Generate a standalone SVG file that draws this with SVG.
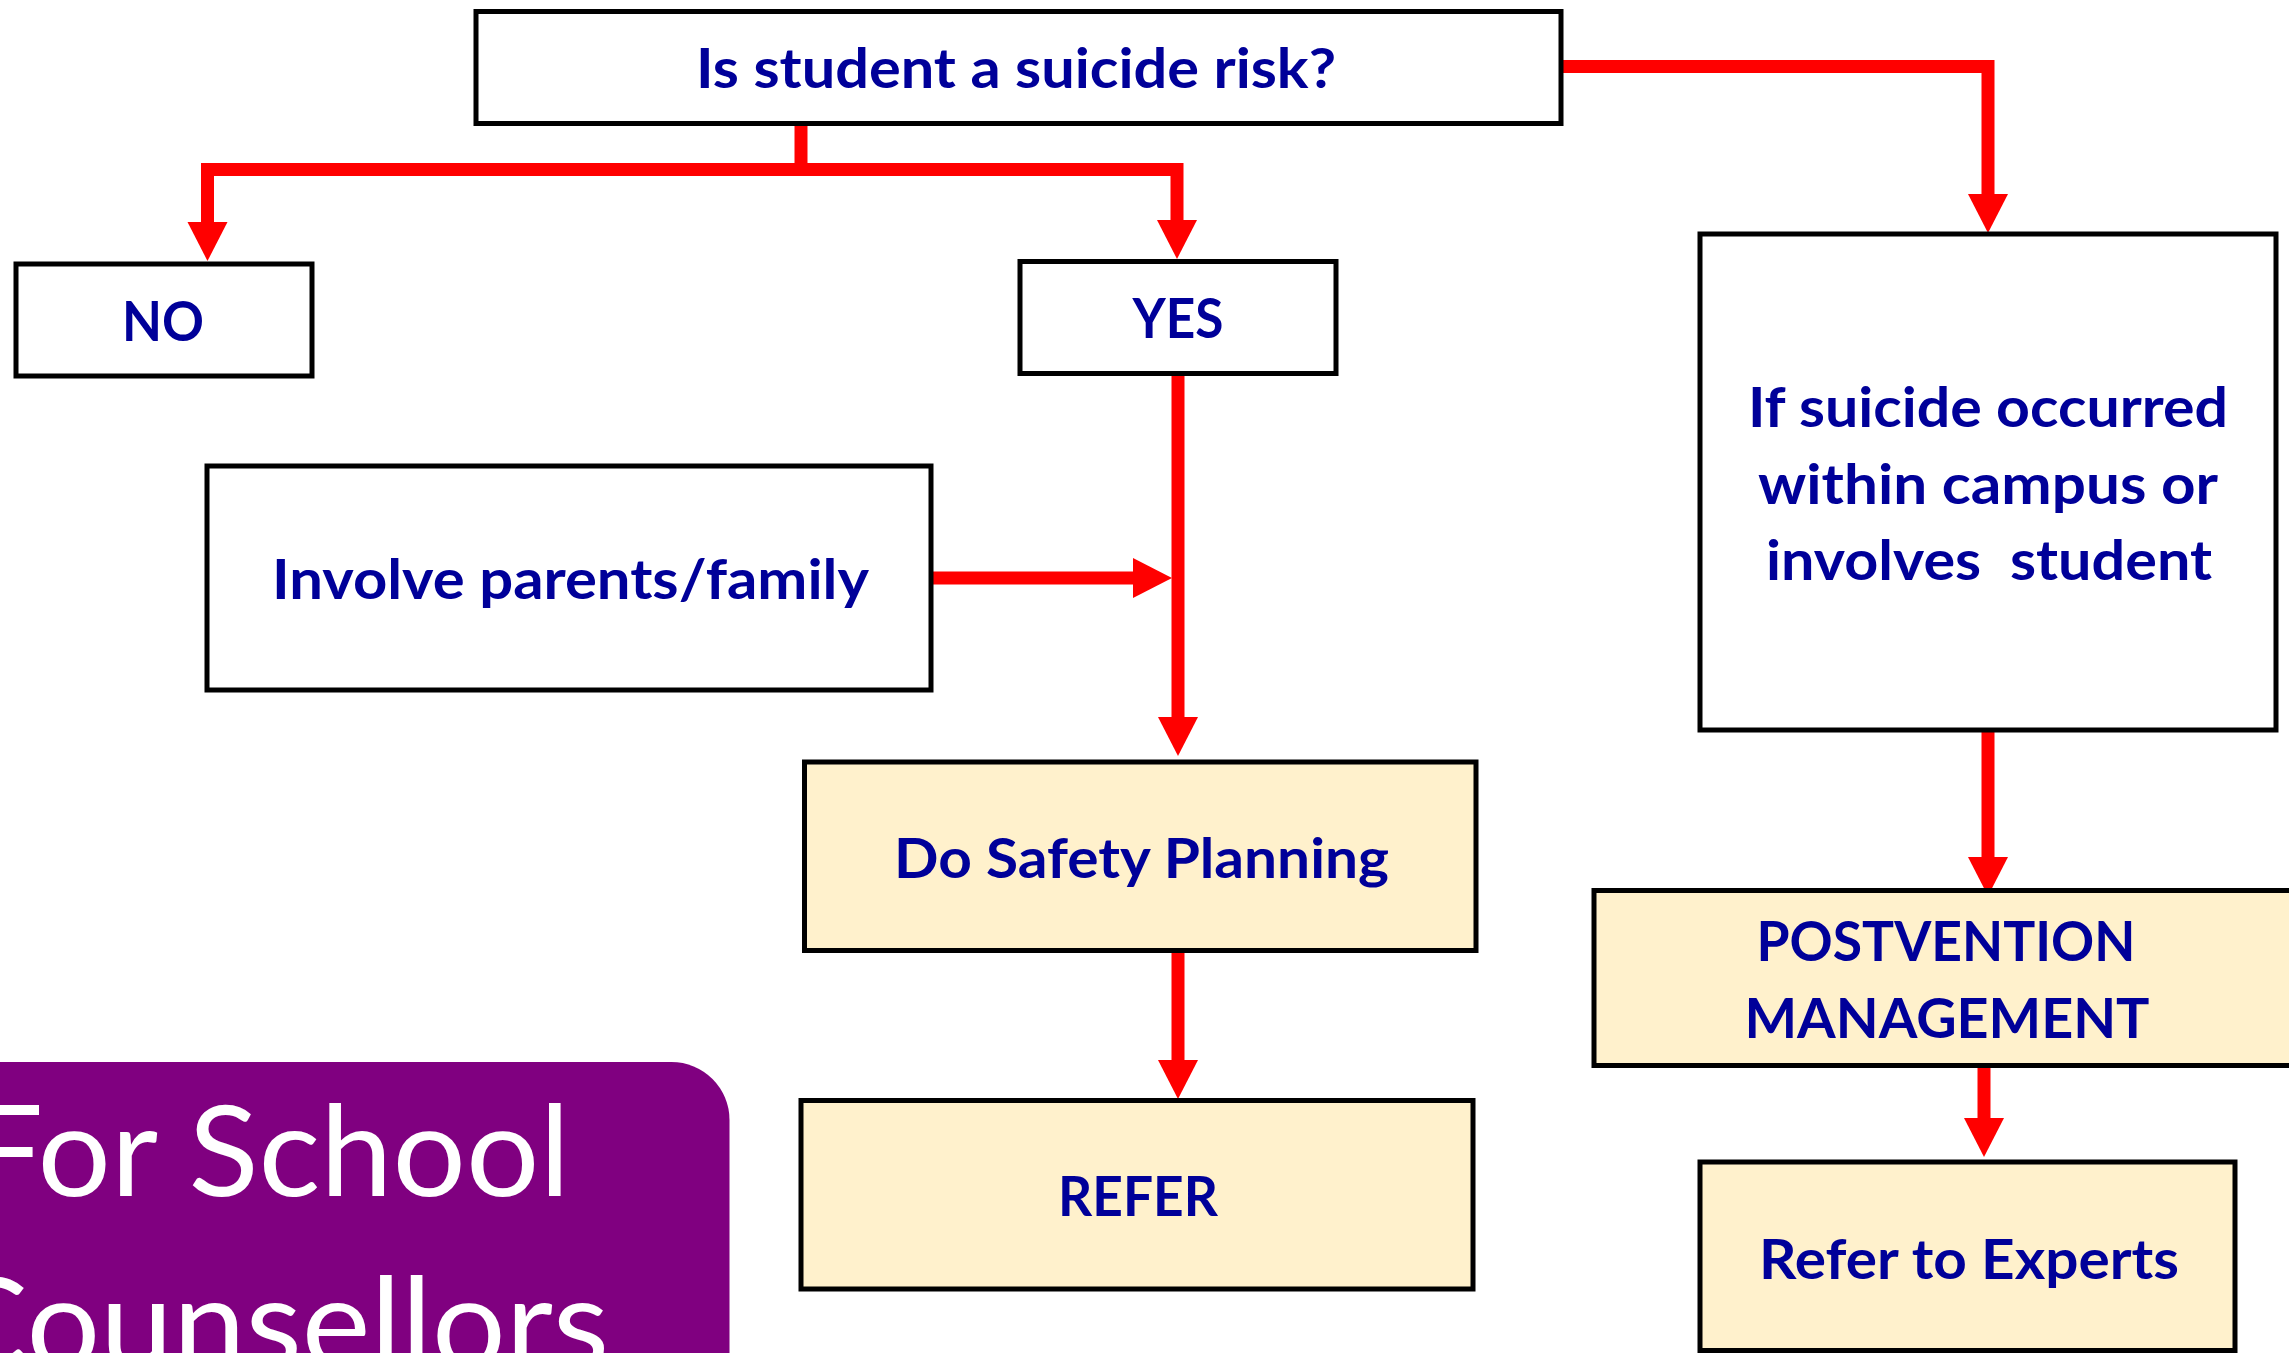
<svg xmlns="http://www.w3.org/2000/svg" width="2289" height="1353" viewBox="0 0 2289 1353">
<defs>
<style>
.box{fill:#ffffff;stroke:#000000;stroke-width:5}
.cream{fill:#fff1cc;stroke:#000000;stroke-width:5}
.t{font-family:Lato,"Open Sans","Liberation Sans",sans-serif;font-weight:700;font-size:55px;fill:#000099;text-anchor:middle}
.w{font-family:Lato,"Open Sans","Liberation Sans",sans-serif;font-weight:400;font-size:126px;fill:#ffffff;text-anchor:middle}
.c{fill:none;stroke:#ff0000;stroke-width:13;stroke-linejoin:miter;marker-end:url(#ah)}
.c0{fill:none;stroke:#ff0000;stroke-width:13}
</style>
<marker id="ah" markerUnits="userSpaceOnUse" markerWidth="40" markerHeight="40" refX="0" refY="20" orient="auto" overflow="visible">
<path d="M0,0 L39,20 L0,40 Z" fill="#ff0000"/>
</marker>
</defs>
<rect width="2289" height="1353" fill="#ffffff"/>

<g id="banner">
<rect x="-100" y="1062" width="829.5" height="420" rx="58" ry="58" fill="#800080"/>
<text class="w" x="270" y="1196" textLength="600" lengthAdjust="spacingAndGlyphs">For School</text>
<text class="w" x="275" y="1368" textLength="668" lengthAdjust="spacingAndGlyphs">Counsellors</text>
</g>

<g id="connectors">
<path class="c0" d="M801,126 V169.5"/>
<path class="c" d="M807,169.5 H207.5 V222"/>
<path class="c" d="M795,169.5 H1177 V220"/>
<path class="c" d="M1563,66.5 H1988 V194"/>
<path class="c" d="M1178,376 V717"/>
<path class="c" d="M933,578 H1133"/>
<path class="c" d="M1178,953 V1060"/>
<path class="c" d="M1988,732 V857"/>
<path class="c" d="M1984,1068 V1118"/>
</g>

<g id="node-risk">
<rect class="box" x="476" y="11.5" width="1085" height="112"/>
<text class="t" x="1016" y="88" textLength="640" lengthAdjust="spacingAndGlyphs">Is student a suicide risk?</text>
</g>

<g id="node-no">
<rect class="box" x="16" y="264" width="296" height="112"/>
<text class="t" x="163" y="341" textLength="82" lengthAdjust="spacingAndGlyphs">NO</text>
</g>

<g id="node-yes">
<rect class="box" x="1020" y="261.5" width="316" height="112"/>
<text class="t" x="1178" y="338" textLength="91" lengthAdjust="spacingAndGlyphs">YES</text>
</g>

<g id="node-involve">
<rect class="box" x="207" y="466" width="724" height="224"/>
<text class="t" x="570.5" y="599" textLength="597" lengthAdjust="spacingAndGlyphs">Involve parents/family</text>
</g>

<g id="node-occurred">
<rect class="box" x="1700" y="234" width="576" height="496"/>
<text class="t" x="1988" y="427" textLength="480" lengthAdjust="spacingAndGlyphs">If suicide occurred</text>
<text class="t" x="1988" y="504" textLength="460" lengthAdjust="spacingAndGlyphs">within campus or</text>
<text class="t" x="1989" y="580" textLength="446" lengthAdjust="spacingAndGlyphs" xml:space="preserve">involves  student</text>
</g>

<g id="node-safety">
<rect class="cream" x="804.5" y="762" width="671.5" height="188.5"/>
<text class="t" x="1141.5" y="878" textLength="495" lengthAdjust="spacingAndGlyphs">Do Safety Planning</text>
</g>

<g id="node-refer">
<rect class="cream" x="801" y="1100.5" width="672" height="188.5"/>
<text class="t" x="1138" y="1216" textLength="160" lengthAdjust="spacingAndGlyphs">REFER</text>
</g>

<g id="node-postvention">
<rect class="cream" x="1594" y="890.5" width="706" height="175"/>
<text class="t" x="1946" y="961" textLength="379" lengthAdjust="spacingAndGlyphs">POSTVENTION</text>
<text class="t" x="1947" y="1038" textLength="405" lengthAdjust="spacingAndGlyphs">MANAGEMENT</text>
</g>

<g id="node-experts">
<rect class="cream" x="1700" y="1162" width="535" height="188.5"/>
<text class="t" x="1969" y="1279" textLength="420" lengthAdjust="spacingAndGlyphs">Refer to Experts</text>
</g>
</svg>
